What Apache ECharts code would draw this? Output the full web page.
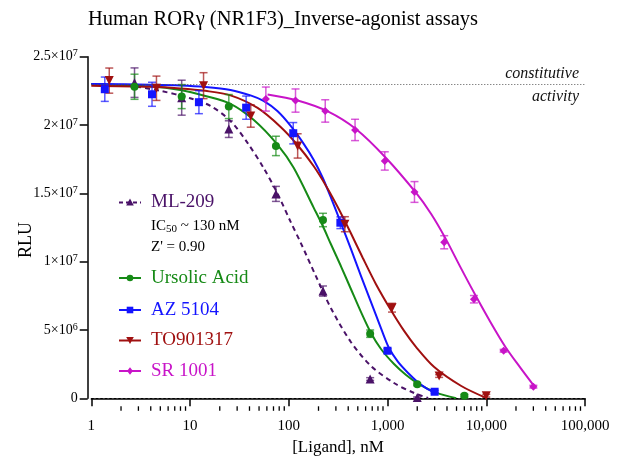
<!DOCTYPE html>
<html><head><meta charset="utf-8">
<script src="https://cdn.jsdelivr.net/npm/echarts@6/dist/echarts.min.js"></script>
<style>html,body{margin:0;padding:0;background:#fff}#c{width:635px;height:473px}</style>
</head><body><div id="c"></div>
<script>
// ---------- data (concentration nM, RLU) ----------
const ml209X   = [2.74, 8.23, 24.7, 74.1, 222, 667, 2000];
const ml209Y   = [23.1e6, 22.0e6, 19.7e6, 14.96e6, 7.85e6, 1.41e6, 0.05e6];
const ml209Err = [1.08e6, 1.28e6, 0.61e6, 0.55e6, 0.37e6, 0.1e6, 0.05e6];
const ml209CurveX = [1, 2.47, 4.99, 9.84, 16.08, 25.68, 38.22, 55.57, 77.14, 104.5, 132.1, 187.7, 266.6, 425.7, 679.7, 1164, 1859, 2579];
const ml209CurveY = [23.01e6, 22.86e6, 22.50e6, 21.98e6, 21.40e6, 20.30e6, 18.69e6, 16.86e6, 14.96e6, 12.91e6, 11.38e6, 8.96e6, 6.61e6, 4.12e6, 2.37e6, 1.12e6, 0.39e6, 0.02e6];

const ursolicX   = [2.74, 8.23, 24.7, 74.1, 222, 667, 2000, 6000];
const ursolicY   = [22.8e6, 22.08e6, 21.35e6, 18.47e6, 13.05e6, 4.73e6, 1.02e6, 0.19e6];
const ursolicErr = [0.92e6, 0.88e6, 0.88e6, 0.71e6, 0.49e6, 0.27e6, 0.1e6, 0.1e6];
const ursolicCurveX = [1, 3.95, 7.97, 14.3, 25.68, 44.0, 77.14, 112.1, 179.1, 221.1, 266.6, 336.9, 425.7, 537.9, 679.7, 859, 1164, 1542, 2042, 3112, 4968];
const ursolicCurveY = [22.99e6, 22.83e6, 22.57e6, 22.13e6, 21.55e6, 20.38e6, 18.55e6, 16.87e6, 13.94e6, 12.61e6, 11.29e6, 9.68e6, 8.00e6, 6.32e6, 4.78e6, 3.61e6, 2.51e6, 1.71e6, 1.08e6, 0.42e6, 0.0];

const azX   = [1.37, 4.12, 12.3, 37.0, 111, 333, 1000, 3000];
const azY   = [22.62e6, 22.25e6, 21.67e6, 21.27e6, 19.4e6, 12.85e6, 3.48e6, 0.48e6];
const azErr = [0.89e6, 0.88e6, 0.84e6, 0.85e6, 0.78e6, 0.43e6, 0.15e6, 0.1e6];
const azCurveX = [1, 3.95, 7.97, 14.3, 25.68, 41.0, 55.57, 77.14, 104.5, 141.7, 179.1, 221.1, 272.9, 336.9, 425.7, 537.9, 729.3, 879.5, 1036, 1278, 1616, 2042, 2461, 3039];
const azCurveY = [23.01e6, 22.95e6, 22.90e6, 22.79e6, 22.57e6, 22.17e6, 21.76e6, 21.00e6, 19.93e6, 18.62e6, 17.44e6, 16.12e6, 14.52e6, 12.83e6, 10.93e6, 8.96e6, 6.47e6, 4.93e6, 3.68e6, 2.66e6, 1.85e6, 1.16e6, 0.75e6, 0.39e6];

const toX   = [1.52, 4.57, 13.7, 41.2, 123, 370, 1111, 3333, 10000];
const toY   = [23.25e6, 22.69e6, 22.88e6, 20.66e6, 18.47e6, 12.74e6, 6.63e6, 1.63e6, 0.19e6];
const toErr = [0.92e6, 0.89e6, 0.95e6, 0.82e6, 0.89e6, 0.55e6, 0.32e6, 0.1e6, 0.1e6];
const toCurveX = [1, 3.95, 7.97, 14.3, 25.68, 48.3, 82.75, 123.1, 179.1, 242.7, 321.5, 425.7, 563.6, 764.1, 1085, 1472, 1948, 2969, 5585, 10020];
const toCurveY = [22.88e6, 22.80e6, 22.68e6, 22.50e6, 22.17e6, 21.25e6, 19.86e6, 18.52e6, 16.98e6, 15.45e6, 13.84e6, 12.08e6, 10.25e6, 8.35e6, 6.44e6, 4.93e6, 3.75e6, 2.29e6, 0.90e6, 0.02e6];

const srX   = [58.6, 117, 234, 469, 938, 1875, 3750, 7500, 15000, 30000];
const srY   = [21.9e6, 21.79e6, 21.03e6, 19.64e6, 17.37e6, 15.1e6, 11.42e6, 7.25e6, 3.48e6, 0.85e6];
const srErr = [0.88e6, 0.85e6, 0.82e6, 0.78e6, 0.67e6, 0.76e6, 0.48e6, 0.27e6, 0.1e6, 0.1e6];
const srCurveX = [61.0, 123.1, 248.5, 478.6, 965.6, 1948, 2768, 3840, 5456, 7750, 11010, 15640, 22210, 30820];
const srCurveY = [22.24e6, 21.80e6, 21.00e6, 19.71e6, 17.59e6, 15.03e6, 13.49e6, 11.74e6, 9.62e6, 7.56e6, 5.59e6, 3.76e6, 2.23e6, 0.86e6];

const constitutiveLevel = 2.3e7;
const xTickValues = [1, 10, 100, 1000, 10000, 100000];
const xTickLabels = ['1', '10', '100', '1,000', '10,000', '100,000'];
const xMinorTicks = [2,3,4,5,6,7,8,9, 20,30,40,50,60,70,80,90, 200,300,400,500,600,700,800,900,
  2000,3000,4000,5000,6000,7000,8000,9000, 20000,30000,40000,50000,60000,70000,80000,90000];
const yTickLabels = {0:'0', 5000000:'5×10{s|6}', 10000000:'1×10{s|7}', 15000000:'1.5×10{s|7}', 20000000:'2×10{s|7}', 25000000:'2.5×10{s|7}'};

const names = ['ML-209', 'Ursolic Acid', 'AZ 5104', 'TO901317', 'SR 1001'];
// ---------- styling ----------
const C = {ml:'#4a1268', ur:'#168a16', az:'#1414ff', to:'#a01010', sr:'#c814c8'};
const FONT = '"Liberation Serif","Times New Roman",serif';

const pts = (xs, ys) => xs.map((x, i) => [x, ys[i]]);

function errSeries(xs, ys, es, color) {
  return {
    type: 'custom', silent: true, z: 3, clip: false,
    data: xs.map((x, i) => [x, ys[i], es[i]]),
    encode: {x: 0, y: 1},
    renderItem: (params, api) => {
      const x = api.value(0), y = api.value(1), e = api.value(2);
      const t = api.coord([x, y + e]), b = api.coord([x, y - e]);
      const cx = t[0], w = 4;
      const st = {stroke: color, lineWidth: 1.5, opacity: 0.7};
      return {type: 'group', children: [
        {type: 'line', shape: {x1: cx, y1: t[1], x2: cx, y2: b[1]}, style: st},
        {type: 'line', shape: {x1: cx - w, y1: t[1], x2: cx + w, y2: t[1]}, style: st},
        {type: 'line', shape: {x1: cx - w, y1: b[1], x2: cx + w, y2: b[1]}, style: st}
      ]};
    }
  };
}
function curve(xs, ys, color, dashed) {
  return {type: 'line', data: pts(xs, ys), showSymbol: false, smooth: 0.3, z: 2, silent: true,
    lineStyle: {color: color, width: 2, type: dashed ? [5, 4] : 'solid'}};
}
function points(name, xs, ys, color, symbol, size, rot) {
  return {type: 'scatter', name: name, data: pts(xs, ys), symbol: symbol, symbolSize: size,
    symbolRotate: rot || 0, itemStyle: {color: color, opacity: 1}, z: 5, silent: true};
}

const series = [
  curve(ml209CurveX, ml209CurveY, C.ml, true),
  curve(ursolicCurveX, ursolicCurveY, C.ur),
  curve(azCurveX, azCurveY, C.az),
  curve(toCurveX, toCurveY, C.to),
  curve(srCurveX, srCurveY, C.sr),
  errSeries(ml209X, ml209Y, ml209Err, C.ml),
  errSeries(ursolicX, ursolicY, ursolicErr, C.ur),
  errSeries(azX, azY, azErr, C.az),
  errSeries(toX, toY, toErr, C.to),
  errSeries(srX, srY, srErr, C.sr),
  points(names[0], ml209X, ml209Y, C.ml, 'triangle', 9),
  points(names[1], ursolicX, ursolicY, C.ur, 'circle', 8),
  points(names[2], azX, azY, C.az, 'rect', 8),
  points(names[3], toX, toY, C.to, 'triangle', 9, 180),
  points(names[4], srX, srY, C.sr, 'diamond', 8),
  // reference lines
  {type: 'line', data: [], silent: true,
    markLine: {silent: true, symbol: 'none', animation: false, label: {show: false},
      data: [
        {yAxis: 0, lineStyle: {type: [2.5, 2], color: '#000', width: 1}},
        {yAxis: constitutiveLevel, lineStyle: {type: [1, 2], color: '#555', width: 1}}
      ]}},
  // x minor ticks
  {type: 'custom', silent: true, clip: false, z: 1,
    data: xMinorTicks.map(v => [v, 0]), encode: {x: 0, y: 1},
    renderItem: (params, api) => {
      const p = api.coord([api.value(0), 0]);
      const y0 = params.coordSys.y + params.coordSys.height + 8;
      return {type: 'line', shape: {x1: p[0], y1: y0, x2: p[0], y2: y0 + 4.5}, style: {stroke: '#000', lineWidth: 1.3}};
    }}
];

// legend (graphic)
const legendRows = [
  {name: names[1], color: C.ur, y: 278, shape: 'circle'},
  {name: names[2], color: C.az, y: 310, shape: 'rect'},
  {name: names[3], color: C.to, y: 340.5, shape: 'down'},
  {name: names[4], color: C.sr, y: 371, shape: 'diamond'}
];
const graphic = [
  {type: 'text', x: 283, y: 20, style: {text: 'Human RORγ (NR1F3)_Inverse-agonist assays', fill: '#000',
    font: '20.5px ' + FONT, align: 'center', verticalAlign: 'middle'}},
  {type: 'text', x: 26, y: 240, rotation: Math.PI / 2, style: {text: 'RLU', fill: '#000',
    font: '18px ' + FONT, align: 'center', verticalAlign: 'middle'}},
  {type: 'text', x: 338, y: 448, style: {text: '[Ligand], nM', fill: '#000',
    font: '17px ' + FONT, align: 'center', verticalAlign: 'middle'}},
  {type: 'text', x: 579, y: 73.5, style: {text: 'constitutive', fill: '#111',
    font: 'italic 16px ' + FONT, align: 'right', verticalAlign: 'middle'}},
  {type: 'text', x: 579, y: 97, style: {text: 'activity', fill: '#111',
    font: 'italic 16px ' + FONT, align: 'right', verticalAlign: 'middle'}},
  // ML-209 legend
  {type: 'line', shape: {x1: 119, y1: 202.5, x2: 141, y2: 202.5}, style: {stroke: C.ml, lineWidth: 2, lineDash: [4, 3]}},
  {type: 'polygon', shape: {points: [[130, 198.5], [133.8, 205.5], [126.2, 205.5]]}, style: {fill: C.ml}},
  {type: 'text', x: 151, y: 202, style: {text: names[0], fill: C.ml, font: '19px ' + FONT, align: 'left', verticalAlign: 'middle'}},
  {type: 'text', x: 151, y: 226, style: {text: 'IC{sub|50} ~ 130 nM', fill: '#000', font: '15px ' + FONT,
    align: 'left', verticalAlign: 'middle',
    rich: {sub: {fontSize: 11, fontFamily: FONT, fill: '#000', verticalAlign: 'bottom', padding: [6, 0, 0, 0]}}}},
  {type: 'text', x: 151, y: 247.5, style: {text: "Z' = 0.90", fill: '#000', font: '15px ' + FONT, align: 'left', verticalAlign: 'middle'}}
];
legendRows.forEach(r => {
  graphic.push({type: 'line', shape: {x1: 119, y1: r.y, x2: 141, y2: r.y}, style: {stroke: r.color, lineWidth: 2}});
  let m;
  if (r.shape === 'circle') m = {type: 'circle', shape: {cx: 130, cy: r.y, r: 3.3}, style: {fill: r.color}};
  else if (r.shape === 'rect') m = {type: 'rect', shape: {x: 126.7, y: r.y - 3.3, width: 6.6, height: 6.6}, style: {fill: r.color}};
  else if (r.shape === 'down') m = {type: 'polygon', shape: {points: [[126.2, r.y - 3.5], [133.8, r.y - 3.5], [130, r.y + 3.5]]}, style: {fill: r.color}};
  else m = {type: 'polygon', shape: {points: [[130, r.y - 3.8], [133, r.y], [130, r.y + 3.8], [127, r.y]]}, style: {fill: r.color}};
  graphic.push(m);
  graphic.push({type: 'text', x: 151, y: r.y, style: {text: r.name, fill: r.color, font: '19px ' + FONT, align: 'left', verticalAlign: 'middle'}});
});

const chart = echarts.init(document.getElementById('c'), null, {renderer: 'canvas'});
chart.setOption({
  animation: false,
  backgroundColor: '#fff',
  grid: {left: 91.3, right: 50, top: 56.7, bottom: 74.7, containLabel: false},
  xAxis: {
    type: 'log', logBase: 10, min: 1, max: 100000, offset: 8, splitNumber: 5,
    axisLine: {show: true, lineStyle: {color: '#000', width: 1.5}},
    axisTick: {show: true, length: 8, inside: false, lineStyle: {color: '#000', width: 1.5}},
    minorTick: {show: false},
    splitLine: {show: false},
    axisLabel: {margin: 12, color: '#000', fontFamily: FONT, fontSize: 15,
      formatter: v => { const i = xTickValues.indexOf(Math.round(v)); return i >= 0 ? xTickLabels[i] : ''; }}
  },
  yAxis: {
    type: 'value', min: 0, max: 25000000, interval: 5000000, offset: 3.6,
    axisLine: {show: true, lineStyle: {color: '#000', width: 1.5}},
    axisTick: {show: true, length: 8, inside: false, lineStyle: {color: '#000', width: 1.5}},
    splitLine: {show: false},
    axisLabel: {margin: 10, color: '#000', fontFamily: FONT, fontSize: 14, lineHeight: 16,
      formatter: v => yTickLabels[Math.round(v)] || '',
      rich: {s: {fontSize: 10, fontFamily: FONT, color: '#000', verticalAlign: 'top', lineHeight: 10}}}
  },
  graphic: graphic,
  series: series
});
</script></body></html>
